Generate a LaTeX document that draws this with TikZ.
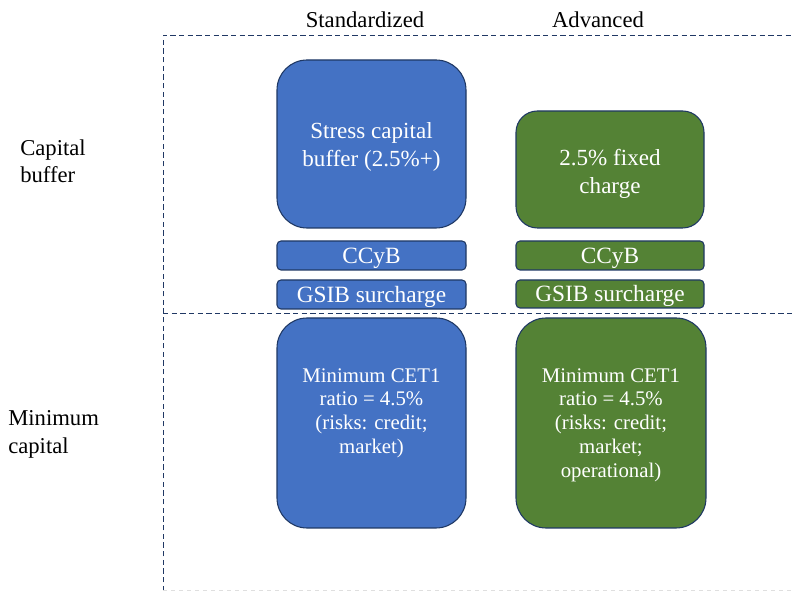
\documentclass[tikz,border=0pt]{standalone}
\usepackage{fontspec}
\setmainfont{Liberation Serif}
\definecolor{bblue}{HTML}{4472C4}
\definecolor{bgreen}{HTML}{548235}
\definecolor{edgec}{HTML}{1F3864}
\definecolor{dashc}{HTML}{203864}
\begin{document}
\begin{tikzpicture}[x=0.75pt,y=-0.75pt,
  box/.style={draw=edgec,line width=0.8pt,text=white,align=center,inner sep=0pt},
  minbox/.style={box,rounded corners=22.5pt},
  thinbox/.style={box,rounded corners=3pt},
  thintext/.style={font=\fontsize{17.5}{18}\selectfont,text=white,inner sep=0pt},
  bigtext/.style={font=\fontsize{17.3}{21}\selectfont,text=white,align=center,inner sep=0pt},
  mintext/.style={font=\fontsize{15.6}{17.9}\selectfont,text=white,align=center,anchor=north,inner sep=0pt},
  label/.style={font=\fontsize{17}{18}\selectfont},
  sidelabel/.style={font=\fontsize{17}{20.6}\selectfont,align=left,anchor=west,inner sep=0pt},
  dline/.style={draw=dashc,dashed,dash pattern=on 4pt off 2.5pt,line width=0.6pt}]
\useasboundingbox (0,0) rectangle (794,591);
% frame lines
\coordinate (tl) at (163,35);
\coordinate (tr) at (794,35);
\coordinate (bl) at (163,591);
\coordinate (ml) at (163,313);
\coordinate (mr) at (794,313);
\draw[dline] (bl) -- (tl) -- (tr);
\draw[dline] (ml) -- (mr);
\draw[gray!25,dashed,line width=0.5pt] (163,590) -- (794,590);
% column headers
\node[label] (hstd) at (365,20) {Standardized};
\node[label] (hadv) at (598,20) {Advanced};
% row labels
\node[sidelabel] (lbuf) at (20,161.5) {Capital\\buffer};
\node[sidelabel] (lmin) at (8,434.5) {Minimum\\capital};
% standardized column
\node[box,fill=bblue,rounded corners=22.5pt,minimum width=189*0.75pt,minimum height=168*0.75pt] (stress) at (371.5,144) {};
\node[bigtext] (stresst) at (371.5,147) {Stress capital\\buffer (2.5\%+)};
\node[thinbox,fill=bblue,minimum width=189*0.75pt,minimum height=29*0.75pt] (ccyb1) at (371.5,255.5) {};
\node[thintext] (ccyb1t) at (371.5,258) {CCyB};
\node[thinbox,fill=bblue,minimum width=189*0.75pt,minimum height=29*0.75pt] (gsib1) at (371.5,294.5) {};
\node[thintext] (gsib1t) at (371.5,296.5) {GSIB surcharge};
\node[minbox,fill=bblue,minimum width=189*0.75pt,minimum height=210*0.75pt] (min1) at (371.5,423) {};
\node[mintext] (min1t) at (371.5,368) {Minimum CET1\\ratio = 4.5\%\\(risks: credit;\\market)};
% advanced column
\node[box,fill=bgreen,rounded corners=16pt,minimum width=188*0.75pt,minimum height=117*0.75pt] (fixed) at (610,169.5) {};
\node[bigtext] (fixedt) at (610,173.5) {2.5\% fixed\\charge};
\node[thinbox,fill=bgreen,minimum width=188*0.75pt,minimum height=29*0.75pt] (ccyb2) at (610,255.5) {};
\node[thintext] (ccyb2t) at (610,258) {CCyB};
\node[thinbox,fill=bgreen,minimum width=188*0.75pt,minimum height=28*0.75pt] (gsib2) at (610,294) {};
\node[thintext] (gsib2t) at (610,296) {GSIB surcharge};
\node[minbox,fill=bgreen,minimum width=190*0.75pt,minimum height=210*0.75pt] (min2) at (611,423) {};
\node[mintext] (min2t) at (611,368) {Minimum CET1\\ratio = 4.5\%\\(risks: credit;\\market;\\operational)};
\end{tikzpicture}
\end{document}
